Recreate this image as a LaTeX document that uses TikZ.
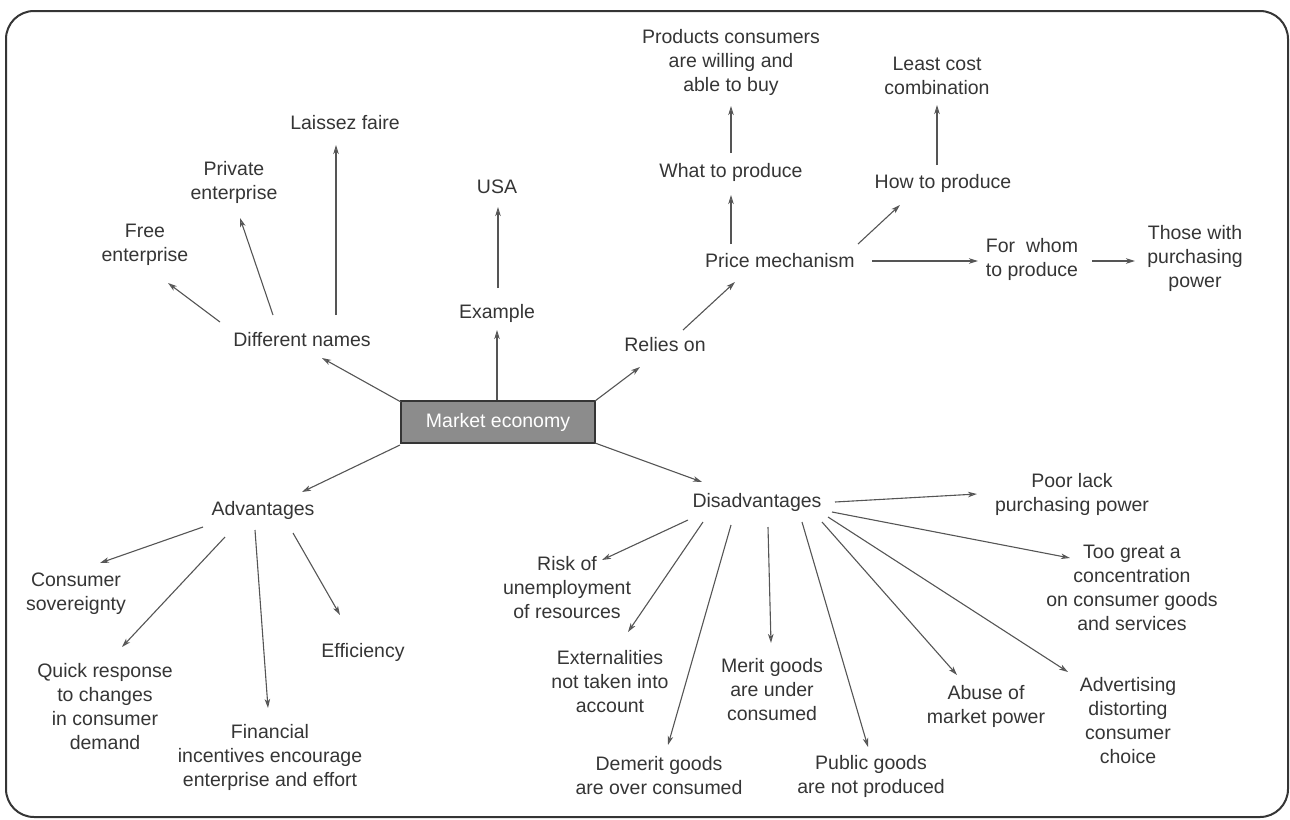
\documentclass[tikz,border=0pt]{standalone}
\usepackage{fontspec}
\setmainfont{Liberation Sans}
\usetikzlibrary{arrows.meta}
\definecolor{ink}{HTML}{353535}
\definecolor{wire}{HTML}{555555}
\begin{document}
\begin{tikzpicture}[x=1pt,y=-1pt,
  txt/.style={text=ink,align=center,inner sep=0pt,font=\fontsize{19.5}{24}\selectfont},
  arr/.style={draw=wire,line width=1.1pt,-{Stealth[open,length=9pt,width=5.5pt,inset=2.5pt]}},
  hub/.style={draw=ink,line width=1.6pt,fill=black!45,minimum width=194pt,minimum height=42pt,
    inner sep=0pt,text=white,font=\fontsize{19.5}{24}\selectfont}]
\useasboundingbox (0,0) rectangle (1290,819);
% frame
\draw[ink,line width=2pt,rounded corners=28pt] (6,11) rectangle (1288,817);

% central concept
\node[hub] (market) at (498,422) {Market economy};

% upper branches
\node[txt] (prod)    at (731,62)   {Products consumers\\are willing and\\able to buy};
\node[txt] (least)   at (937,76)   {Least cost\\combination};
\node[txt] (what)    at (731,172)  {What to produce};
\node[txt] (how)     at (943,183)  {How to produce};
\node[txt] (price)   at (780,261)  {Price mechanism};
\node[txt] (whom)    at (1032,259) {For\ \ whom\\to produce};
\node[txt] (those)   at (1195,258) {Those with\\purchasing\\power};
\node[txt] (relies)  at (665,345)  {Relies on};
\node[txt] (example) at (497,313)  {Example};
\node[txt] (usa)     at (497,187)  {USA};
\node[txt] (laissez) at (345,123)  {Laissez faire};
\node[txt] (private) at (234,182)  {Private\\enterprise};
\node[txt] (free)    at (145,245)  {Free\\enterprise};
\node[txt] (diff)    at (302,340)  {Different names};

% lower branches
\node[txt] (adv)      at (263,510)  {Advantages};
\node[txt] (cons)     at (76,594)   {Consumer\\sovereignty};
\node[txt] (quick)    at (105,707)  {Quick response\\to changes\\in consumer\\demand};
\node[txt] (fin)      at (270,757)  {Financial\\incentives encourage\\enterprise and effort};
\node[txt] (eff)      at (363,652)  {Efficiency};
\node[txt] (dis)      at (757,502)  {Disadvantages};
\node[txt] (risk)     at (567,588)  {Risk of\\unemployment\\of resources};
\node[txt] (ext)      at (610,682)  {Externalities\\not taken into\\account};
\node[txt] (demerit)  at (659,776)  {Demerit goods\\are over consumed};
\node[txt] (merit)    at (772,690)  {Merit goods\\are under\\consumed};
\node[txt] (public)   at (871,776)  {Public goods\\are not produced};
\node[txt] (abuse)    at (986,706)  {Abuse of\\market power};
\node[txt] (advert)   at (1128,721) {Advertising\\distorting\\consumer\\choice};
\node[txt] (toogreat) at (1132,588) {Too great a\\concentration\\on consumer goods\\and services};
\node[txt] (poor)     at (1072,494) {Poor lack\\purchasing power};

% connectors, upper part
\draw[arr] ([shift={(0,-19)}]what.center)   -- ([shift={(0,44)}]prod.center);
\draw[arr] ([shift={(-6,-18)}]how.center)   -- ([shift={(0,29)}]least.center);
\draw[arr] ([shift={(-49,-17)}]price.center) -- ([shift={(0,23)}]what.center);
\draw[arr] ([shift={(78,-17)}]price.center)  -- ([shift={(-43,22)}]how.center);
\draw[arr] ([shift={(92,0)}]price.center)    -- ([shift={(-54,2)}]whom.center);
\draw[arr] ([shift={(60,2)}]whom.center)     -- ([shift={(-60,3)}]those.center);
\draw[arr] ([shift={(18,-15)}]relies.center) -- ([shift={(-45,21)}]price.center);
\draw[arr] ([shift={(97,-21)}]market.center) -- ([shift={(-25,22)}]relies.center);
\draw[arr] ([shift={(-1,-22)}]market.center) -- ([shift={(0,17)}]example.center);
\draw[arr] ([shift={(1,-25)}]example.center) -- ([shift={(1,20)}]usa.center);
\draw[arr] ([shift={(-97,-20)}]market.center) -- ([shift={(20,18)}]diff.center);
\draw[arr] ([shift={(34,-25)}]diff.center)   -- ([shift={(-9,22)}]laissez.center);
\draw[arr] ([shift={(-29,-25)}]diff.center)  -- ([shift={(6,36)}]private.center);
\draw[arr] ([shift={(-82,-18)}]diff.center)  -- ([shift={(23,38)}]free.center);

% connectors, lower part
\draw[arr] ([shift={(-98,23)}]market.center) -- ([shift={(39,-18)}]adv.center);
\draw[arr] ([shift={(97,21)}]market.center)  -- ([shift={(-55,-20)}]dis.center);
\draw[arr] ([shift={(-60,17)}]adv.center)    -- ([shift={(24,-31)}]cons.center);
\draw[arr] ([shift={(-38,27)}]adv.center)    -- ([shift={(17,-60)}]quick.center);
\draw[arr] ([shift={(-8,20)}]adv.center)     -- ([shift={(-2,-49)}]fin.center);
\draw[arr] ([shift={(30,23)}]adv.center)     -- ([shift={(-23,-37)}]eff.center);
\draw[arr] ([shift={(-69,18)}]dis.center)    -- ([shift={(35,-28)}]risk.center);
\draw[arr] ([shift={(-54,20)}]dis.center)    -- ([shift={(18,-50)}]ext.center);
\draw[arr] ([shift={(-26,23)}]dis.center)    -- ([shift={(9,-31)}]demerit.center);
\draw[arr] ([shift={(11,25)}]dis.center)     -- ([shift={(-1,-47)}]merit.center);
\draw[arr] ([shift={(45,20)}]dis.center)     -- ([shift={(-3,-29)}]public.center);
\draw[arr] ([shift={(65,20)}]dis.center)     -- ([shift={(-29,-31)}]abuse.center);
\draw[arr] ([shift={(71,15)}]dis.center)     -- ([shift={(-60,-49)}]advert.center);
\draw[arr] ([shift={(75,10)}]dis.center)     -- ([shift={(-62,-30)}]toogreat.center);
\draw[arr] ([shift={(78,0)}]dis.center)      -- ([shift={(-95,0)}]poor.center);
\end{tikzpicture}
\end{document}
